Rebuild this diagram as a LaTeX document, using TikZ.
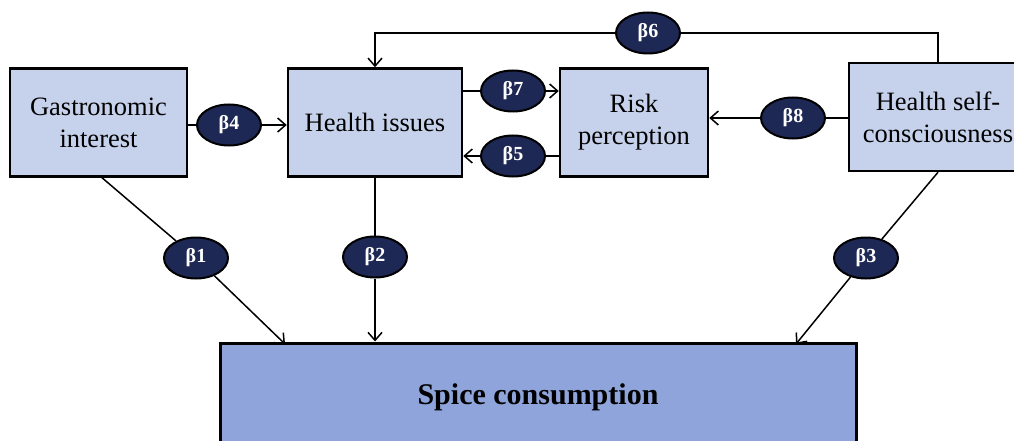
\documentclass[tikz,border=0pt]{standalone}
\usepackage{fontspec}
\setmainfont{Liberation Serif}
\usetikzlibrary{arrows.meta,shapes.geometric}

\definecolor{boxfill}{RGB}{198,210,236}
\definecolor{outfill}{RGB}{142,164,219}
\definecolor{coeffill}{RGB}{30,40,84}

\tikzset{
  construct/.style={draw=black, line width=2.5pt, fill=boxfill, align=center,
    minimum height=108pt, inner sep=0pt,
    font=\fontsize{26.5}{32}\selectfont},
  outcome/.style={draw=black, line width=3pt, fill=outfill,
    minimum width=636pt, minimum height=108pt, inner sep=0pt,
    font=\fontsize{30}{36}\selectfont\bfseries},
  coef/.style={ellipse, draw=black, line width=2pt, fill=coeffill,
    minimum width=64pt, minimum height=41pt, inner sep=0pt,
    text=white, font=\fontsize{20}{24}\selectfont\bfseries},
  link/.style={line width=1.5pt},
  path/.style={line width=1.5pt, -{Straight Barb[length=8pt,width=14pt,line width=1.5pt]}}
}

\begin{document}
\begin{tikzpicture}[x=1pt, y=-1pt]
  \useasboundingbox (0,0) rectangle (1014,441);
  \clip (0,0) rectangle (1014,441);

  % latent constructs
  \node[construct, minimum width=177pt] (gas) at (98.5,122.5) {Gastronomic\\interest};
  \node[construct, minimum width=174pt] (hi)  at (375,122.5) {Health issues};
  \node[construct, minimum width=148pt] (rp)  at (634,122.5) {Risk\\perception};
  \node[construct, minimum width=178pt] (hsc) at (938,117) {Health self-\\consciousness};

  % outcome
  \node[outcome] (spice) at (538,397) {Spice consumption};

  % path coefficients
  \node[coef] (b4) at (229,125) {β4};
  \node[coef] (b7) at (513,91)  {β7};
  \node[coef] (b5) at (513,156) {β5};
  \node[coef] (b8) at (793,118) {β8};
  \node[coef] (b6) at (648,33)  {β6};
  \node[coef] (b1) at (196,258) {β1};
  \node[coef] (b2) at (375,257) {β2};
  \node[coef] (b3) at (866,258) {β3};

  % arrow targets on the outcome box
  \coordinate (s1) at (285,344);
  \coordinate (s3) at (796,344);
  \coordinate (g0) at (100,176);

  % horizontal paths
  \draw[link] (gas.east |- b4) -- (b4);
  \draw[path] (b4) -- (hi.west |- b4);
  \draw[link] (hi.east |- b7) -- (b7);
  \draw[path] (b7) -- (rp.west |- b7);
  \draw[link] (rp.west |- b5) -- (b5);
  \draw[path] (b5) -- (hi.east |- b5);
  \draw[link] (hsc.west |- b8) -- (b8);
  \draw[path] (b8) -- (rp.east |- b8);

  % feedback loop over the top
  \draw[link] (hsc.north) |- (b6);
  \draw[path] (b6) -| (hi.north);

  % paths into spice consumption
  \draw[link] (g0) -- (b1);
  \draw[path] (b1) -- (s1);
  \draw[link] (hi.south) -- (b2);
  \draw[path] (b2) -- (hi.south |- spice.north);
  \draw[link] (hsc.south) -- (b3);
  \draw[path] (b3) -- (s3);
\end{tikzpicture}
\end{document}
